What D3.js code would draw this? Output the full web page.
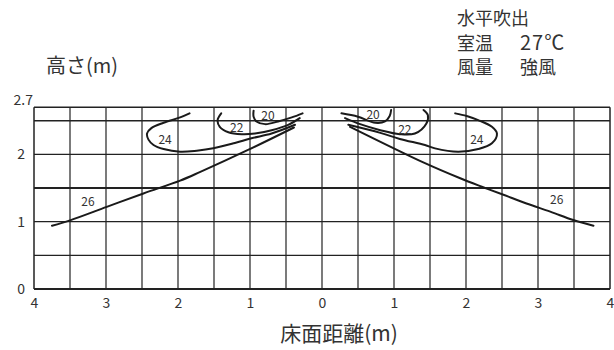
<!DOCTYPE html>
<html>
<head>
<meta charset="utf-8">
<script src="https://cdn.jsdelivr.net/npm/d3@7"></script>
<style>
  body { margin: 0; background: #fff; }
  text { font-family: "Noto Sans CJK JP", "Noto Sans", sans-serif; fill: #333; }
</style>
</head>
<body>
<svg width="614" height="350"></svg>
<script>
// tick values and labels
var xTicks = [-4, -3, -2, -1, 0, 1, 2, 3, 4];
var xTickLabels = ["4", "3", "2", "1", "0", "1", "2", "3", "4"];
var yTicks = [0, 1, 2];
var yTopLabel = "2.7";
var gridX = [-4, -3.5, -3, -2.5, -2, -1.5, -1, -0.5, 0, 0.5, 1, 1.5, 2, 2.5, 3, 3.5, 4];
var gridY = [0, 0.5, 1, 1.5, 2, 2.5, 2.7];

// isotherm curves, [distance, height]
var left26 = [[-3.75, 0.94], [-3.5, 1.02], [-2.99, 1.22], [-2.48, 1.42], [-1.97, 1.61],
              [-1.69, 1.74], [-1.02, 2.07], [-0.39, 2.40]];
var right26 = [[0.39, 2.41], [1.43, 1.87], [1.92, 1.645], [2.22, 1.52], [2.52, 1.40],
               [2.84, 1.27], [3.17, 1.15], [3.49, 1.025], [3.77, 0.94]];
var left24 = [[-1.84, 2.61], [-1.97, 2.55], [-2.20, 2.47], [-2.37, 2.39], [-2.43, 2.31],
              [-2.41, 2.22], [-2.34, 2.14], [-2.20, 2.08], [-1.97, 2.04], [-1.74, 2.055],
              [-1.51, 2.09], [-1.21, 2.17], [-0.98, 2.24], [-0.70, 2.31], [-0.375, 2.44]];
var right24 = [[0.365, 2.44], [0.81, 2.32], [1.08, 2.23], [1.43, 2.14], [1.57, 2.09],
               [1.89, 2.04], [2.17, 2.08], [2.36, 2.165], [2.43, 2.31], [2.36, 2.41],
               [2.17, 2.51], [2.01, 2.57], [1.85, 2.61]];
var left22 = [[-1.40, 2.61], [-1.45, 2.51], [-1.42, 2.41], [-1.30, 2.33], [-1.115, 2.30],
              [-0.93, 2.31], [-0.70, 2.36], [-0.47, 2.44], [-0.31, 2.54]];
var right22 = [[0.32, 2.54], [0.53, 2.45], [0.81, 2.36], [1.08, 2.30], [1.29, 2.31],
               [1.45, 2.46], [1.47, 2.585], [1.41, 2.66]];
var left20 = [[-0.95, 2.65], [-0.95, 2.56], [-0.91, 2.49], [-0.79, 2.45], [-0.61, 2.49],
              [-0.42, 2.55], [-0.27, 2.61]];
var right20 = [[0.27, 2.61], [0.50, 2.56], [0.74, 2.47], [0.875, 2.49], [0.94, 2.57], [0.96, 2.66]];

var curves = [left26, right26, left24, right24, left22, right22, left20, right20];

var isoLabels = ["26", "24", "22", "20", "20", "22", "24", "26"];
var isoLabelX = [-3.25, -2.18, -1.185, -0.75, 0.71, 1.15, 2.15, 3.26];
var isoLabelY = [1.29, 2.21, 2.39, 2.57, 2.585, 2.37, 2.21, 1.33];

var infoNames = ["水平吹出", "室温", "風量"];
var infoValues = ["", "27℃", "強風"];

var svg = d3.select("svg");

var x = d3.scaleLinear().domain([-4, 4]).range([34, 610]);
var y = d3.scaleLinear().domain([0, 2.7]).range([289, 107.3]);

// grid
var grid = svg.append("g").attr("class", "grid");
grid.selectAll("line.v")
    .data(gridX)
    .enter().append("line")
    .attr("class", "v")
    .attr("x1", d => x(d)).attr("x2", d => x(d))
    .attr("y1", y(0)).attr("y2", y(2.7))
    .attr("stroke", "#222")
    .attr("stroke-width", d => (d === -4 || d === 4) ? 1.5 : 1.2);

grid.selectAll("line.h")
    .data(gridY)
    .enter().append("line")
    .attr("class", "h")
    .attr("x1", x(-4)).attr("x2", x(4))
    .attr("y1", d => y(d)).attr("y2", d => y(d))
    .attr("stroke", "#222")
    .attr("stroke-width", d => d === 1.5 || d === 0 ? 2 : (d === 2.7 || d === 2.5 ? 1.5 : 1.2));

// axes
var xAxis = d3.axisBottom(x)
    .tickValues(xTicks)
    .tickSize(0)
    .tickPadding(9)
    .tickFormat((d, i) => xTickLabels[i]);
svg.append("g")
    .attr("transform", "translate(0," + y(0) + ")")
    .call(xAxis)
    .call(g => g.select(".domain").remove())
    .selectAll("text")
    .attr("font-size", 14)
    .attr("fill", "#333")
    .attr("font-family", "'Noto Sans CJK JP', sans-serif");

var yAxis = d3.axisLeft(y)
    .tickValues(yTicks)
    .tickSize(0)
    .tickPadding(9)
    .tickFormat(d3.format("d"));
svg.append("g")
    .attr("transform", "translate(" + x(-4) + ",0)")
    .call(yAxis)
    .call(g => g.select(".domain").remove())
    .selectAll("text")
    .attr("font-size", 14)
    .attr("fill", "#333")
    .attr("font-family", "'Noto Sans CJK JP', sans-serif");

svg.append("text")
    .attr("x", x(-4) - 1)
    .attr("y", y(2.7) - 2)
    .attr("text-anchor", "end")
    .attr("font-size", 14)
    .text(yTopLabel);

// curves
var line = d3.line()
    .x(d => x(d[0]))
    .y(d => y(d[1]))
    .curve(d3.curveCatmullRom.alpha(0.5));

svg.append("g")
    .selectAll("path")
    .data(curves)
    .enter().append("path")
    .attr("d", line)
    .attr("fill", "none")
    .attr("stroke", "#1a1a1a")
    .attr("stroke-width", 2)
    .attr("stroke-linecap", "round");

svg.append("g")
    .selectAll("text")
    .data(isoLabels)
    .enter().append("text")
    .attr("x", (d, i) => x(isoLabelX[i]))
    .attr("y", (d, i) => y(isoLabelY[i]))
    .attr("dy", "0.35em")
    .attr("text-anchor", "middle")
    .attr("font-size", 12)
    .attr("fill", "#555")
    .text(d => d);

// titles
svg.append("text")
    .attr("x", 46)
    .attr("y", 73)
    .attr("font-size", 20)
    .text("高さ(m)");

svg.append("text")
    .attr("x", 339)
    .attr("y", 341)
    .attr("text-anchor", "middle")
    .attr("font-size", 21)
    .text("床面距離(m)");

var info = svg.append("g");
info.selectAll("text.name")
    .data(infoNames)
    .enter().append("text")
    .attr("class", "name")
    .attr("x", 457)
    .attr("y", (d, i) => 25 + i * 24.5)
    .attr("font-size", 18)
    .text(d => d);
info.selectAll("text.val")
    .data(infoValues)
    .enter().append("text")
    .attr("class", "val")
    .attr("x", 520)
    .attr("y", (d, i) => 25 + i * 24.5)
    .attr("font-size", (d, i) => i === 1 ? 20 : 18)
    .attr("letter-spacing", (d, i) => i === 1 ? 1 : 0)
    .text(d => d);
</script>
</body>
</html>
